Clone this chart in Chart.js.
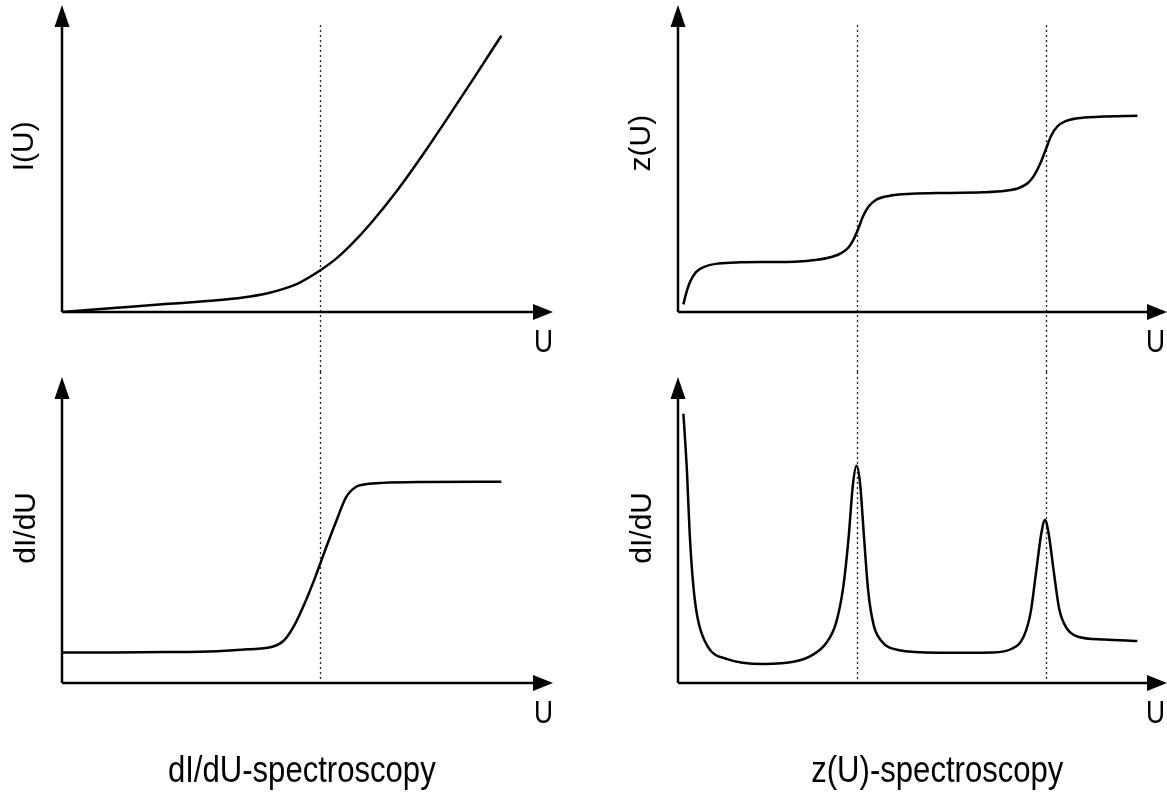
<!DOCTYPE html>
<html>
<head>
<meta charset="utf-8">
<title>STM spectroscopy sketch</title>
<script src="https://cdn.jsdelivr.net/npm/chart.js@4.4.1/dist/chart.umd.min.js"></script>
<style>
  html, body { margin: 0; padding: 0; background: #fff; }
  #wrap { position: relative; width: 1167px; height: 792px; overflow: hidden; }
  #wrap canvas { position: absolute; left: 0; top: 0; }
</style>
</head>
<body>
<div id="wrap">
  <canvas id="ivChart" width="1167" height="792"></canvas>
  <canvas id="stepChart" width="1167" height="792"></canvas>
  <canvas id="zChart" width="1167" height="792"></canvas>
  <canvas id="peakChart" width="1167" height="792"></canvas>
</div>
<script>
// --- data (schematic) ---
// left column: I(U) and its derivative
const uCurrent = [0, 1, 2, 3, 3.5, 4, 4.3, 4.6, 5, 5.3, 5.6, 6, 6.5, 7, 7.5, 8, 8.5];
const current  = [0, 0.13, 0.26, 0.38, 0.47, 0.62, 0.76, 0.96, 1.36, 1.73, 2.2, 2.94, 3.99, 5.17, 6.42, 7.7, 9.0];

const uStep    = [0, 1, 2, 3, 3.6, 4.1, 4.3, 4.5, 4.7, 4.9, 5.1, 5.3, 5.5, 5.7, 5.9, 6.2, 7, 8.5];
const stepDIdU = [1.0, 1.0, 1.01, 1.04, 1.1, 1.2, 1.4, 1.9, 2.62, 3.46, 4.38, 5.26, 6.08, 6.42, 6.5, 6.54, 6.57, 6.58];

// right column: z(U) and dI/dU with resonance peaks
const uHeight  = [0.06, 0.09, 0.13, 0.2, 0.3, 0.45, 0.7, 1.0, 1.3, 1.55,
                  1.72, 1.82, 1.9, 1.96, 2.01, 2.06, 2.12, 2.2, 2.35, 2.6,
                  3.0, 3.4, 3.65, 3.8, 3.9, 3.97, 4.04, 4.1, 4.16, 4.23,
                  4.32, 4.45, 4.7, 5.12];
const height   = [0.25, 0.6, 0.95, 1.3, 1.48, 1.58, 1.62, 1.63, 1.64, 1.7,
                  1.8, 1.92, 2.1, 2.38, 2.72, 3.1, 3.42, 3.64, 3.78, 3.85,
                  3.88, 3.9, 3.95, 4.04, 4.2, 4.45, 4.85, 5.3, 5.75, 6.05,
                  6.22, 6.31, 6.36, 6.39];

const uPeaks   = [0.06, 0.08, 0.1, 0.13, 0.17, 0.22, 0.33, 0.55, 0.95, 1.3,
                  1.5, 1.65, 1.76, 1.84, 1.9, 1.95, 1.99, 2.03, 2.07, 2.12,
                  2.18, 2.26, 2.45, 2.9, 3.5, 3.72, 3.85, 3.93, 3.99, 4.05,
                  4.09, 4.13, 4.19, 4.25, 4.33, 4.45, 4.75, 5.12];
const peakDIdU = [8.8, 7.9, 6.9, 4.9, 3.2, 2.1, 1.2, 0.78, 0.62, 0.7,
                  0.92, 1.3, 1.95, 3.1, 4.7, 6.5, 7.1, 6.5, 4.9, 3.0,
                  1.9, 1.4, 1.08, 0.99, 1.0, 1.12, 1.5, 2.3, 3.6, 4.9,
                  5.33, 4.9, 3.6, 2.4, 1.8, 1.52, 1.42, 1.37];

// marker voltages (dotted lines)
const leftMarks  = [5];
const rightMarks = [2.0, 4.1];

// texts
const yTitles  = ['I(U)', 'dI/dU', 'z(U)', 'dI/dU'];
const xTitle   = 'U';
const captions = ['dI/dU-spectroscopy', 'z(U)-spectroscopy'];

const FONT = "'Liberation Sans', Arial, Helvetica, sans-serif";

// draws arrow axes, dotted markers and labels using the chart's own scales
const sketchAxes = {
  id: 'sketchAxes',
  beforeDatasetsDraw(chart, args, opts) {
    const ctx = chart.ctx;
    const xs = chart.scales.x, ys = chart.scales.y;
    const y0 = ys.getPixelForValue(0);
    ctx.save();
    ctx.strokeStyle = '#222';
    ctx.lineWidth = 1.3;
    ctx.setLineDash([2, 3]);
    (opts.marks || []).forEach(function (u) {
      const px = Math.round(xs.getPixelForValue(u)) + 0.5;
      ctx.beginPath();
      ctx.moveTo(px, opts.markTop);
      ctx.lineTo(px, opts.markBottom != null ? opts.markBottom : y0);
      ctx.stroke();
    });
    ctx.restore();
  },
  afterDatasetsDraw(chart, args, opts) {
    const ctx = chart.ctx;
    const xs = chart.scales.x, ys = chart.scales.y;
    const x0 = xs.getPixelForValue(0), y0 = ys.getPixelForValue(0);
    const xEnd = xs.getPixelForValue(xs.max), yEnd = ys.getPixelForValue(ys.max);
    ctx.save();
    ctx.strokeStyle = '#000';
    ctx.fillStyle = '#000';
    ctx.lineWidth = 2.5;
    ctx.beginPath();
    ctx.moveTo(x0, y0); ctx.lineTo(xEnd - 18, y0);
    ctx.moveTo(x0, y0); ctx.lineTo(x0, yEnd + 20);
    ctx.stroke();
    // arrow heads
    ctx.beginPath();
    ctx.moveTo(xEnd, y0); ctx.lineTo(xEnd - 20, y0 - 8); ctx.lineTo(xEnd - 20, y0 + 8);
    ctx.closePath(); ctx.fill();
    ctx.beginPath();
    ctx.moveTo(x0, yEnd); ctx.lineTo(x0 - 7.5, yEnd + 22); ctx.lineTo(x0 + 7.5, yEnd + 22);
    ctx.closePath(); ctx.fill();

    // y title, rotated
    ctx.font = '30px ' + FONT;
    ctx.textAlign = 'center';
    ctx.textBaseline = 'alphabetic';
    ctx.save();
    ctx.translate(x0 - opts.yTitleOffset, ys.getPixelForValue(opts.yTitleAt));
    ctx.rotate(-Math.PI / 2);
    ctx.fillText(opts.yTitle, 0, 0);
    ctx.restore();

    // x title "U" at the arrow tip (narrow lettering)
    ctx.save();
    ctx.font = '31px ' + FONT;
    ctx.translate(xEnd - opts.xTitleInset, y0 + 40);
    ctx.scale(0.85, 1);
    ctx.textAlign = 'right';
    ctx.fillText(opts.xTitle, 0, 0);
    ctx.restore();

    // caption below the lower panels
    if (opts.caption) {
      ctx.save();
      ctx.font = '37px ' + FONT;
      ctx.translate(xs.getPixelForValue(opts.captionAt), y0 + 99);
      ctx.scale(0.84, 1);
      ctx.textAlign = 'center';
      ctx.fillText(opts.caption, 0, 0);
      ctx.restore();
    }
    ctx.restore();
  }
};

function pts(xs, ys) {
  return xs.map(function (x, i) { return { x: x, y: ys[i] }; });
}

function makeChart(id, xVals, yVals, xMax, pad, axisOpts) {
  return new Chart(document.getElementById(id), {
    type: 'line',
    data: {
      datasets: [{
        data: pts(xVals, yVals),
        borderColor: '#000',
        borderWidth: 2.5,
        pointRadius: 0,
        fill: false,
        cubicInterpolationMode: 'monotone'
      }]
    },
    options: {
      responsive: false,
      animation: false,
      events: [],
      layout: { padding: pad },
      scales: {
        x: { type: 'linear', min: 0, max: xMax, display: false },
        y: { type: 'linear', min: 0, max: 10, display: false }
      },
      plugins: {
        legend: { display: false },
        tooltip: { enabled: false },
        sketchAxes: axisOpts
      }
    },
    plugins: [sketchAxes]
  });
}

// top-left: I(U)
makeChart('ivChart', uCurrent, current, 9.5,
  { left: 62, right: 1167 - 553, top: 5, bottom: 792 - 312 },
  { yTitle: yTitles[0], yTitleAt: 5.4, yTitleOffset: 29, xTitle: xTitle, xTitleInset: 0,
    marks: leftMarks, markTop: 25, markBottom: 372 });

// bottom-left: dI/dU step
makeChart('stepChart', uStep, stepDIdU, 9.5,
  { left: 62, right: 1167 - 553, top: 377, bottom: 792 - 683 },
  { yTitle: yTitles[1], yTitleAt: 5.07, yTitleOffset: 27, xTitle: xTitle, xTitleInset: 0,
    marks: leftMarks, markTop: 372, caption: captions[0], captionAt: 4.64 });

// top-right: z(U)
makeChart('zChart', uHeight, height, 5.45,
  { left: 678, right: 0, top: 5, bottom: 792 - 312 },
  { yTitle: yTitles[2], yTitleAt: 5.5, yTitleOffset: 28, xTitle: xTitle, xTitleInset: 2,
    marks: rightMarks, markTop: 25, markBottom: 372 });

// bottom-right: dI/dU peaks
makeChart('peakChart', uPeaks, peakDIdU, 5.45,
  { left: 678, right: 0, top: 377, bottom: 792 - 683 },
  { yTitle: yTitles[3], yTitleAt: 5.07, yTitleOffset: 27, xTitle: xTitle, xTitleInset: 2,
    marks: rightMarks, markTop: 372, caption: captions[1], captionAt: 2.89 });
</script>
</body>
</html>
